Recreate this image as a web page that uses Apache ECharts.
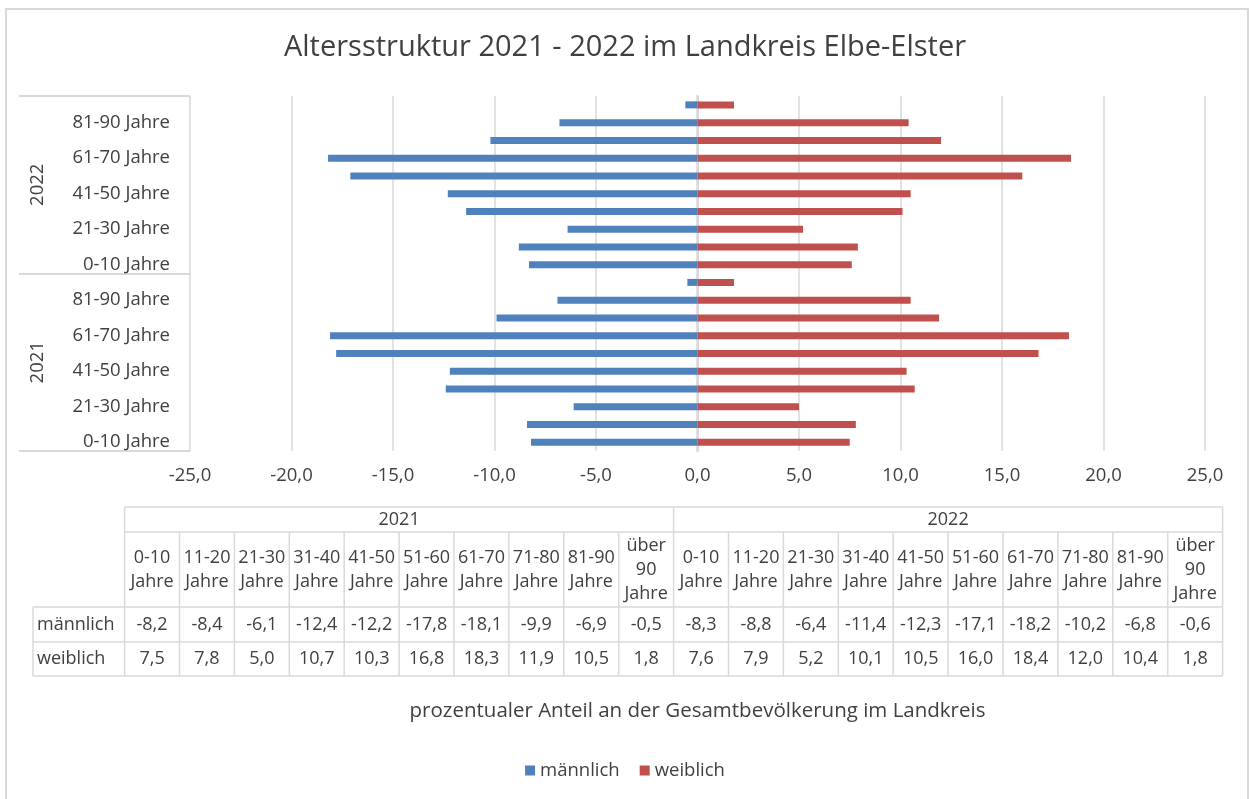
<!DOCTYPE html>
<html>
<head>
<meta charset="utf-8">
<script src="https://cdn.jsdelivr.net/npm/echarts@6/dist/echarts.min.js"></script>
<style>
  html, body { margin: 0; padding: 0; background: #fff; }
  #chart { width: 1250px; height: 799px; }
</style>
</head>
<body>
<div id="chart"></div>
<script>
const years = ['2021', '2022'];
const ageGroups = ['0-10 Jahre', '11-20 Jahre', '21-30 Jahre', '31-40 Jahre', '41-50 Jahre',
  '51-60 Jahre', '61-70 Jahre', '71-80 Jahre', '81-90 Jahre', 'über 90 Jahre'];
const ageHeaders = ['0-10\nJahre', '11-20\nJahre', '21-30\nJahre', '31-40\nJahre', '41-50\nJahre',
  '51-60\nJahre', '61-70\nJahre', '71-80\nJahre', '81-90\nJahre', 'über\n90\nJahre'];
const male2021 = [-8.2, -8.4, -6.1, -12.4, -12.2, -17.8, -18.1, -9.9, -6.9, -0.5];
const female2021 = [7.5, 7.8, 5.0, 10.7, 10.3, 16.8, 18.3, 11.9, 10.5, 1.8];
const male2022 = [-8.3, -8.8, -6.4, -11.4, -12.3, -17.1, -18.2, -10.2, -6.8, -0.6];
const female2022 = [7.6, 7.9, 5.2, 10.1, 10.5, 16.0, 18.4, 12.0, 10.4, 1.8];
const seriesNames = ['männlich', 'weiblich'];

const FONT = '"Open Sans", "Noto Sans", sans-serif';
const TEXT = '#404040';
const LINE = '#d9d9d9';

const categories = years.flatMap(() => ageGroups);
const maleAll = male2021.concat(male2022);
const femaleAll = female2021.concat(female2022);
const fmt = (v) => v.toFixed(1).replace('.', ',');

// data table below the plot
const tableLeft = 124.6;
const colW = 54.9;
const rowLabelLeft = 33;
const rows = [507, 532, 607, 642, 676];
const nCols = years.length * ageGroups.length;
const tableRight = tableLeft + nCols * colW;

const graphics = [];
const hLine = (x1, x2, y) => graphics.push({
  type: 'line', shape: { x1, y1: y, x2, y2: y }, style: { stroke: LINE, lineWidth: 1.5 }, silent: true
});
const vLine = (x, y1, y2) => graphics.push({
  type: 'line', shape: { x1: x, y1, x2: x, y2 }, style: { stroke: LINE, lineWidth: 1.5 }, silent: true
});
const cellText = (text, x, y, align) => graphics.push({
  type: 'text', x, y, silent: true,
  style: { text, fill: TEXT, font: '18px ' + FONT, align: align || 'center', verticalAlign: 'middle', lineHeight: 24 }
});

hLine(tableLeft, tableRight, rows[0]);
hLine(tableLeft, tableRight, rows[1]);
hLine(rowLabelLeft, tableRight, rows[2]);
hLine(rowLabelLeft, tableRight, rows[3]);
hLine(rowLabelLeft, tableRight, rows[4]);
vLine(rowLabelLeft, rows[2], rows[4]);
years.forEach((y, i) => {
  const x0 = tableLeft + i * ageGroups.length * colW;
  vLine(x0, rows[0], rows[4]);
  cellText(y, x0 + ageGroups.length * colW / 2, (rows[0] + rows[1]) / 2);
});
vLine(tableRight, rows[0], rows[4]);
for (let c = 0; c < nCols; c++) {
  const x0 = tableLeft + c * colW;
  if (c % ageGroups.length !== 0) vLine(x0, rows[1], rows[4]);
  const cx = x0 + colW / 2;
  cellText(ageHeaders[c % ageGroups.length], cx, (rows[1] + rows[2]) / 2);
  cellText(fmt(maleAll[c]), cx, (rows[2] + rows[3]) / 2);
  cellText(fmt(femaleAll[c]), cx, (rows[3] + rows[4]) / 2);
}
cellText(seriesNames[0], rowLabelLeft + 4, (rows[2] + rows[3]) / 2, 'left');
cellText(seriesNames[1], rowLabelLeft + 4, (rows[3] + rows[4]) / 2, 'left');

// outer frame
graphics.push({
  type: 'rect', shape: { x: 6, y: 9, width: 1242, height: 800 },
  style: { fill: 'none', stroke: LINE, lineWidth: 2 }, silent: true, z: -1
});

const chart = echarts.init(document.getElementById('chart'), null, { renderer: 'canvas' });
chart.setOption({
  animation: false,
  color: ['#4f81bd', '#c0504d'],
  title: {
    text: 'Altersstruktur 2021 - 2022 im Landkreis Elbe-Elster',
    left: 'center',
    top: 28,
    textStyle: { fontFamily: FONT, fontSize: 29, fontWeight: 'normal', color: TEXT }
  },
  legend: {
    bottom: 14,
    left: 'center',
    icon: 'rect',
    itemWidth: 10,
    itemHeight: 10,
    itemGap: 20,
    itemStyle: { borderWidth: 0 },
    textStyle: { fontFamily: FONT, fontSize: 18.5, color: TEXT }
  },
  grid: { left: 190, right: 45, top: 96, bottom: 348 },
  xAxis: {
    type: 'value',
    min: -25,
    max: 25,
    interval: 5,
    name: 'prozentualer Anteil an der Gesamtbevölkerung im Landkreis',
    nameLocation: 'middle',
    nameGap: 250,
    nameTextStyle: { fontFamily: FONT, fontSize: 20.5, color: TEXT },
    axisLine: { show: false },
    axisTick: { show: false },
    axisLabel: { formatter: fmt, fontFamily: FONT, fontSize: 18.5, color: TEXT, margin: 15 },
    splitLine: { lineStyle: { color: LINE, width: 1.5 } }
  },
  yAxis: [
    {
      type: 'category',
      data: categories,
      axisLine: { show: false, onZero: false },
      axisTick: { show: false },
      axisLabel: { interval: 1, fontFamily: FONT, fontSize: 18.5, color: TEXT, margin: 20 }
    },
    {
      type: 'category',
      data: years,
      position: 'left',
      axisLine: { show: false, onZero: false },
      axisTick: { show: true, length: 171, lineStyle: { color: LINE, width: 2 } },
      axisLabel: { rotate: 90, fontFamily: FONT, fontSize: 18.5, color: TEXT, margin: 143 }
    },
    {
      type: 'category',
      data: categories,
      axisLine: { show: true, onZero: true, lineStyle: { color: LINE, width: 2.5 } },
      axisTick: { show: false },
      axisLabel: { show: false }
    }
  ],
  series: [
    { name: seriesNames[0], type: 'bar', stack: 'pyramid', barWidth: 7, data: maleAll },
    { name: seriesNames[1], type: 'bar', stack: 'pyramid', barWidth: 7, data: femaleAll }
  ],
  graphic: graphics
});
</script>
</body>
</html>
